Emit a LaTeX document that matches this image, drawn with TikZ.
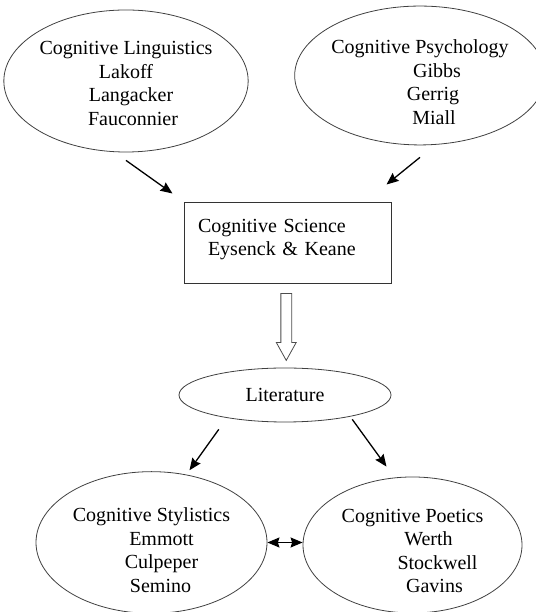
\documentclass[tikz,border=0pt]{standalone}
\usepackage{fontspec}
\setmainfont{Liberation Serif}
\usepackage{tikz}
\usetikzlibrary{shapes.geometric}
\usetikzlibrary{shapes.arrows}
\usetikzlibrary{arrows.meta}
\usetikzlibrary{calc}

\begin{document}
\begin{tikzpicture}[x=1bp,y=1bp,
  every node/.style={font=\fontsize{20bp}{23.5bp}\selectfont},
  oval/.style={shape=ellipse,draw=black!75,line width=0.8bp,align=center,inner sep=0pt},
  arr/.style={line width=1.3bp,-{Stealth[length=12bp,width=10bp,inset=1.5bp]}},
  hollow/.style={single arrow,draw=black!70,line width=0.8bp,rotate=-90,inner sep=5bp,single arrow head extend=4.5bp,single arrow tip angle=58}]
\useasboundingbox (0,0) rectangle (536,612);
\node (linguistics) at (126,531) [oval,minimum width=230bp,minimum height=142bp]{\mbox{}\\[-5bp]Cognitive Linguistics\\Lakoff\\\hspace*{10bp}Langacker\\\hspace*{14bp}Fauconnier};
\node (psychology) at (420,536.5) [oval,minimum width=234bp,minimum height=131bp]{\mbox{}\\[4bp]Cognitive Psychology\\\hspace*{34bp}Gibbs\\\hspace*{26bp}Gerrig\\\hspace*{28bp}Miall};
\node (science) at (287.5,368.5) [rectangle,draw=black!80,line width=1bp,minimum width=207bp,minimum height=81bp,text width=179bp,align=left]{Cognitive Science\\\hspace*{10bp}Eysenck \& Keane\\[-11bp]\mbox{}};
\node (literature) at (285,217) [oval,minimum width=212bp,minimum height=54bp]{Literature};
\node (stylistics) at (151.5,69.5) [oval,minimum width=231bp,minimum height=127bp]{\mbox{}\\[6bp]Cognitive Stylistics\\\hspace*{20bp}Emmott\\\hspace*{20bp}Culpeper\\\hspace*{18bp}Semino};
\node (poetics) at (412.5,67) [oval,minimum width=219bp,minimum height=132bp]{\mbox{}\\[2bp]Cognitive Poetics\\\hspace*{32bp}Werth\\\hspace*{50bp}Stockwell\\\hspace*{44bp}Gavins};
\node (down) at ($(science.south)!0.5!(literature.north)+(0,4)$) [hollow,minimum height=67bp]{};
\draw[arr] ([yshift=-8bp]linguistics.south) -- ([shift={(-11bp,9bp)}]science.north west);
\draw[arr] ([yshift=-12bp]psychology.south) -- ([shift={(-5bp,18bp)}]science.north east);
\draw[arr] ([shift={(9bp,-15bp)}]literature.south west) -- ([shift={(38bp,1bp)}]stylistics.north);
\draw[arr] ([shift={(-8bp,-5bp)}]literature.south east) -- ([shift={(-26bp,10bp)}]poetics.north);
\draw[arr,{Stealth[length=12bp,width=10bp,inset=1.5bp]}-{Stealth[length=12bp,width=10bp,inset=1.5bp]}] (stylistics.east) -- (stylistics.east -| poetics.west);
\end{tikzpicture}
\end{document}
